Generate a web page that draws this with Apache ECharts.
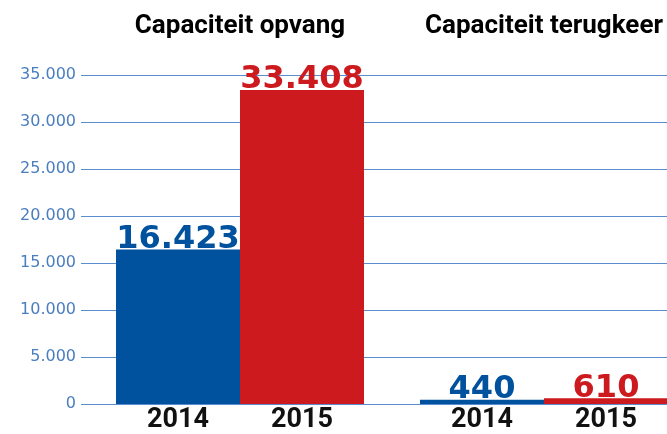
<!DOCTYPE html>
<html>
<head>
<meta charset="utf-8">
<script src="https://cdn.jsdelivr.net/npm/echarts@6/dist/echarts.min.js"></script>
<style>
html,body{margin:0;padding:0;background:#fff;}
#c{width:667px;height:434px;}
</style>
</head>
<body>
<div id="c"></div>
<script>
const categories = ['Capaciteit opvang', 'Capaciteit terugkeer'];
const years = ['2014', '2015'];
const values2014 = [16423, 440];
const values2015 = [33408, 610];
const yMin = 0, yMax = 35000, yStep = 5000;

const BLUE = '#00519e';
const RED = '#cc1a1e';
const fmt = v => String(v).replace(/\B(?=(\d{3})+(?!\d))/g, '.');

const chart = echarts.init(document.getElementById('c'), null, {renderer: 'canvas'});

function labelSeries(year, stack) {
  return {
    type: 'bar', xAxisIndex: 1, yAxisIndex: 1, stack: stack,
    data: categories.map(() => 0),
    barWidth: 124, barGap: '0%',
    itemStyle: {color: 'transparent'},
    silent: true,
    label: {
      show: true, position: 'bottom', distance: 3,
      formatter: () => year,
      fontFamily: 'Roboto', fontWeight: 'bold', fontSize: 27, color: '#111'
    }
  };
}
function valueSeries(vals, color, stack) {
  return {
    type: 'bar', xAxisIndex: 1, yAxisIndex: 1, stack: stack,
    data: vals, barWidth: 124, barGap: '0%',
    itemStyle: {color: color},
    label: {
      show: true, position: 'top', distance: -6,
      formatter: p => fmt(p.value),
      fontFamily: 'DejaVu Sans', fontWeight: 'bold', fontSize: 32, color: color
    }
  };
}

chart.setOption({
  animation: false,
  grid: [
    {left: 81, right: 0, top: 75, bottom: 30, outerBoundsMode: 'none'},
    {left: 88, width: 608, top: 75, bottom: 30, outerBoundsMode: 'none'}
  ],
  xAxis: [
    {gridIndex: 0, type: 'value', show: false, min: 0, max: 1},
    {gridIndex: 1, type: 'category', data: categories, position: 'top',
     axisLine: {show: false}, axisTick: {show: false},
     axisLabel: {interval: 0, hideOverlap: false, margin: 36, fontFamily: 'Roboto', fontWeight: 'bold', fontSize: 26, color: '#000'}}
  ],
  yAxis: [
    {gridIndex: 0, type: 'value', min: yMin, max: yMax, interval: yStep,
     axisLine: {show: false}, axisTick: {show: false},
     splitLine: {lineStyle: {color: '#5b8ccc', width: 1}},
     axisLabel: {margin: 5, formatter: fmt, fontFamily: 'DejaVu Sans', fontSize: 16, color: '#4a7ebf'}},
    {gridIndex: 1, type: 'value', min: yMin, max: yMax, interval: yStep, show: false,
     splitLine: {show: false}}
  ],
  series: [
    labelSeries(years[0], 's14'),
    valueSeries(values2014, BLUE, 's14'),
    labelSeries(years[1], 's15'),
    valueSeries(values2015, RED, 's15')
  ]
});
</script>
</body>
</html>
